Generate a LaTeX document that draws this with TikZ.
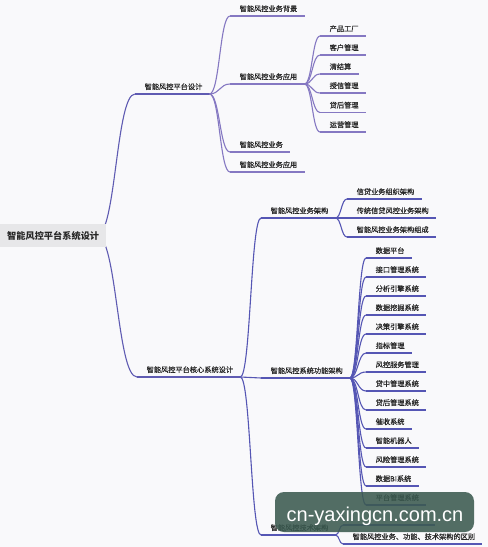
\documentclass[tikz,border=0pt]{standalone}
\usepackage{fontspec}
\newfontfamily\cjk{Noto Sans CJK SC}[FakeBold=0.5]
\newfontfamily\cjkroot{Noto Sans CJK SC}
\newfontfamily\wmfont{Liberation Sans}
\usetikzlibrary{calc}
\definecolor{bg}{HTML}{F9F9FB}
\definecolor{lc1}{HTML}{5F5BB2}
\definecolor{lcu}{HTML}{8578C2}
\definecolor{lcb}{HTML}{5556B4}
\definecolor{txt}{HTML}{262626}
\definecolor{rootbg}{HTML}{E7E7E9}
\definecolor{wm}{HTML}{3B5A50}
\newcommand\mconn[3][lcb]{\draw[line width=1.1pt,draw=#1] let \p1=(#2), \p2=(#3), \p3=($(\p1)!0.5!(\p2)$) in (\p1) .. controls (\x3,\y1) and (\x3,\y2) .. (\p2);}
\tikzset{
  lbl/.style={font=\cjk\fontsize{7.2}{8}\selectfont, text=txt, anchor=south west,
    inner xsep=7pt, inner ysep=3.5pt, text height=6.3pt, text depth=0.9pt,
    execute at begin node={\hspace*{2.5pt}},
    append after command={(\tikzlastnode.south west) edge[draw=#1,line width=1.1pt] (\tikzlastnode.south east)}},
  lbl/.default=lcu,
  rootbox/.style={font=\cjkroot\bfseries\fontsize{9.2}{10}\selectfont, text=txt, fill=rootbg, anchor=west,
    minimum width=106pt, minimum height=23pt, inner sep=0pt},
}
\begin{document}
\begin{tikzpicture}[x=1pt,y=-1pt]
\fill[bg] (0,0) rectangle (488,547);
\useasboundingbox (0,0) rectangle (488,547);
% level 1
\node[lbl=lc1] (a) at (135,94) {智能风控平台设计};
\node[lbl=lc1] (b) at (137,377) {智能风控平台核心系统设计};
% upper subtree
\node[lbl=lcu] (a1) at (230,16) {智能风控业务背景};
\node[lbl=lcu] (a2) at (230,84) {智能风控业务应用};
\node[lbl=lcu] (a3) at (230,152) {智能风控业务};
\node[lbl=lcu] (a4) at (230,172) {智能风控业务应用};
\node[lbl=lcu] (a21) at (320,36) {产品工厂};
\node[lbl=lcu] (a22) at (320,55) {客户管理};
\node[lbl=lcu] (a23) at (320,74) {清结算};
\node[lbl=lcu] (a24) at (320,93) {授信管理};
\node[lbl=lcu] (a25) at (320,112.5) {贷后管理};
\node[lbl=lcu] (a26) at (320,132) {运营管理};
% lower subtree
\node[lbl=lcb] (b1) at (261,218) {智能风控业务架构};
\node[lbl=lcb] (b2) at (261,378) {智能风控系统功能架构};
\node[lbl=lcb] (b3) at (261,535) {智能风控技术架构};
\node[lbl=lcb] (b11) at (347,199) {信贷业务组织架构};
\node[lbl=lcb] (b12) at (347,218) {传统信贷风控业务架构};
\node[lbl=lcb] (b13) at (347,237) {智能风控业务架构组成};
\node[lbl=lcb] (b21) at (366,258) {数据平台};
\node[lbl=lcb] (b22) at (366,277) {接口管理系统};
\node[lbl=lcb] (b23) at (366,296) {分析引擎系统};
\node[lbl=lcb] (b24) at (366,315) {数据挖掘系统};
\node[lbl=lcb] (b25) at (366,334) {决策引擎系统};
\node[lbl=lcb] (b26) at (366,353) {指标管理};
\node[lbl=lcb] (b27) at (366,372) {风控服务管理};
\node[lbl=lcb] (b28) at (366,391) {贷中管理系统};
\node[lbl=lcb] (b29) at (366,410) {贷后管理系统};
\node[lbl=lcb] (b210) at (366,429) {催收系统};
\node[lbl=lcb] (b211) at (366,448) {智能机器人};
\node[lbl=lcb] (b212) at (366,467) {风险管理系统};
\node[lbl=lcb] (b213) at (366,486) {数据BI系统};
\node[lbl=lcb] (b214) at (366,505) {平台管理系统};
\node[lbl=lcb, minimum width=92pt] (b31) at (343,525) {};
\node[lbl=lcb] (b32) at (343,544) {智能风控业务、功能、技术架构的区别};
% connectors
\coordinate (r0) at (97,235.5);
\mconn[lc1]{r0}{a.south west}
\mconn[lc1]{r0}{b.south west}
\foreach \c in {a1,a2,a3,a4} {\mconn[lcu]{a.south east}{\c.south west}}
\foreach \c in {a21,a22,a23,a24,a25,a26} {\mconn[lcu]{a2.south east}{\c.south west}}
\foreach \c in {b1,b2,b3} {\mconn[lcb]{b.south east}{\c.south west}}
\foreach \c in {b11,b12,b13} {\mconn[lcb]{b1.south east}{\c.south west}}
\foreach \c in {b21,b22,b23,b24,b25,b26,b27,b28,b29,b210,b211,b212,b213,b214} {\mconn[lcb]{b2.south east}{\c.south west}}
\foreach \c in {b31,b32} {\mconn[lcb]{b3.south east}{\c.south west}}
% root
\node[rootbox] (root) at (0,235.5) {智能风控平台系统设计};
% watermark
\node[fill=wm, fill opacity=0.88, rounded corners=9pt, minimum width=199pt, minimum height=40pt, inner sep=0pt] (wmbox) at (374.5,512) {};
\node[anchor=base, text=white, font=\wmfont\fontsize{20}{20}\selectfont, inner sep=0pt] (wmtext) at (375,521) {cn-yaxingcn.com.cn};
\end{tikzpicture}
\end{document}
